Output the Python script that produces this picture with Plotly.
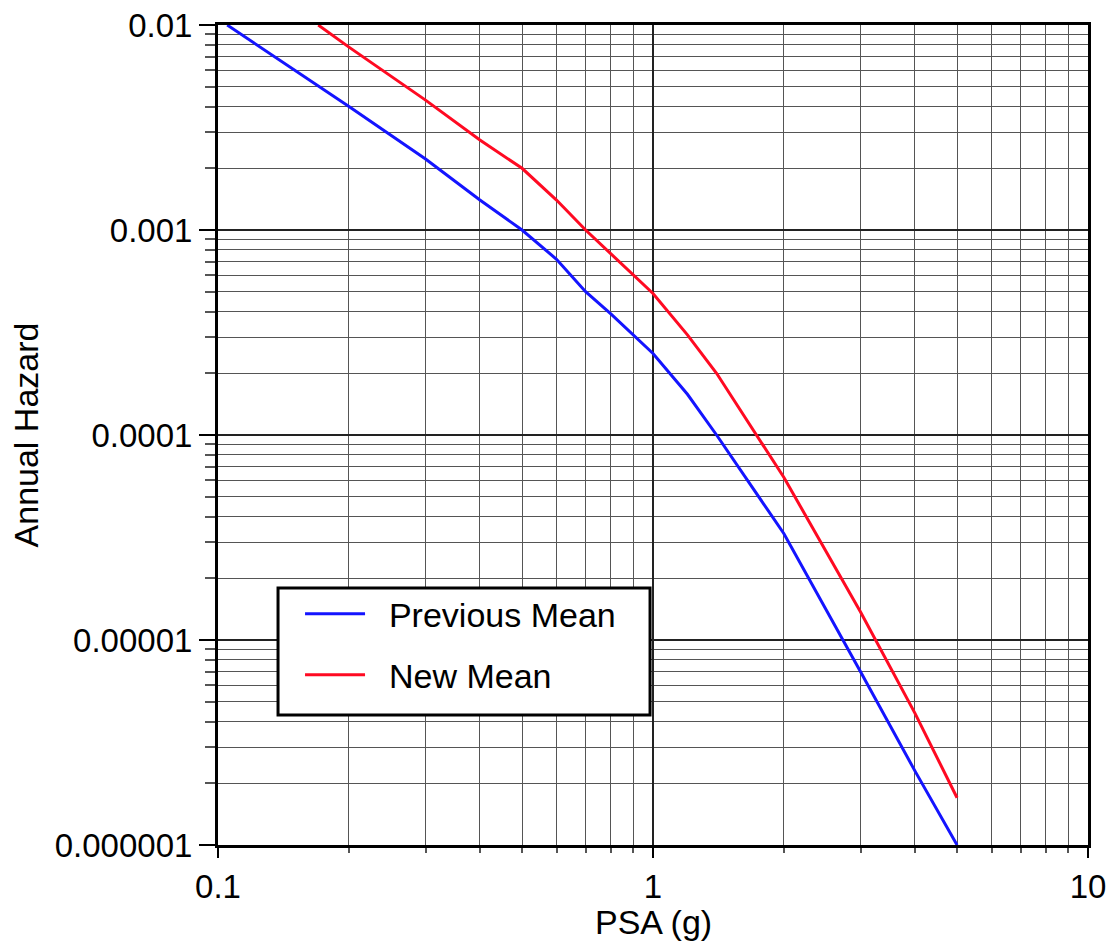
import plotly.graph_objects as go

prev_x = [0.105, 0.2, 0.3, 0.4, 0.5, 0.6, 0.7, 0.8, 1.0, 1.2, 1.4, 2.0, 3.0, 4.0, 5.0]
prev_y = [0.01, 0.004, 0.00222, 0.0014, 0.001, 0.00072, 0.0005, 0.00039, 0.00025,
          0.000158, 0.0001, 0.000033, 0.000007, 0.0000023, 0.000001]
new_x = [0.17, 0.2, 0.3, 0.4, 0.5, 0.6, 0.7, 1.0, 1.2, 1.4, 2.0, 3.0, 4.0, 5.0]
new_y = [0.01, 0.0078, 0.0043, 0.00275, 0.002, 0.0014, 0.001, 0.00049, 0.000308,
         0.0002, 0.000062, 0.0000137, 0.0000044, 0.0000017]

x_tickvals = [0.1, 1, 10]
x_ticktext = ["0.1", "1", "10"]
y_tickvals = [0.01, 0.001, 0.0001, 0.00001, 0.000001]
y_ticktext = ["0.01", "0.001", "0.0001", "0.00001", "0.000001"]

FONT = "Liberation Sans, Arial, Helvetica, sans-serif"
NB = "\u00a0\u00a0"

fig = go.Figure()
fig.add_trace(go.Scatter(x=prev_x, y=prev_y, mode="lines", name=NB + "Previous Mean",
                         legendgroup="a", line=dict(color="#1414ff", width=3)))
fig.add_trace(go.Scatter(x=new_x, y=new_y, mode="lines", name=NB + "New Mean",
                         legendgroup="b", line=dict(color="#ff0a22", width=3)))

axis_common = dict(
    type="log", showline=True, linewidth=3, linecolor="black", mirror=True,
    showgrid=True, gridcolor="#222222", gridwidth=1.5,
    ticks="outside", tickwidth=1.5, tickcolor="black",
    tickfont=dict(size=33, color="black", family=FONT),
    zeroline=False, automargin=False,
)

fig.update_xaxes(**axis_common, range=[-1, 1], tickmode="array", ticklen=10,
                 tickvals=x_tickvals, ticktext=x_ticktext,
                 minor=dict(dtick="D1", showgrid=True, gridcolor="#555555", gridwidth=1,
                            ticks="outside", ticklen=5, tickcolor="#555555"))
fig.update_yaxes(**axis_common, range=[-6, -2], tickmode="array", ticklen=16,
                 tickvals=y_tickvals, ticktext=y_ticktext,
                 minor=dict(dtick="D1", showgrid=True, gridcolor="#555555", gridwidth=1,
                            ticks="outside", ticklen=10, tickcolor="#555555"),
                 title=dict(text="Annual Hazard", font=dict(size=34, color="black", family=FONT),
                            standoff=6))

# x-axis title placed as an annotation for precise position
fig.add_annotation(text="PSA (g)", xref="paper", yref="paper", x=0.5, y=-0.0935,
                   xanchor="center", yanchor="middle", showarrow=False,
                   font=dict(size=34, color="black", family=FONT))

# legend frame (decoration), in paper coordinates
fig.add_shape(type="rect", xref="paper", yref="paper",
              x0=0.069, x1=0.4966, y0=0.1585, y1=0.3134,
              line=dict(color="black", width=3), fillcolor="white", layer="above")

fig.update_layout(
    width=1110, height=943,
    margin=dict(l=218, r=22, t=25, b=98),
    paper_bgcolor="white", plot_bgcolor="white",
    font=dict(family=FONT, color="black"),
    legend=dict(x=0.0943, y=0.317, xanchor="left", yanchor="top",
                bgcolor="rgba(0,0,0,0)", borderwidth=0,
                font=dict(size=34, color="black", family=FONT),
                tracegroupgap=14, itemwidth=60),
    showlegend=True,
)

fig.write_html("out.html")
